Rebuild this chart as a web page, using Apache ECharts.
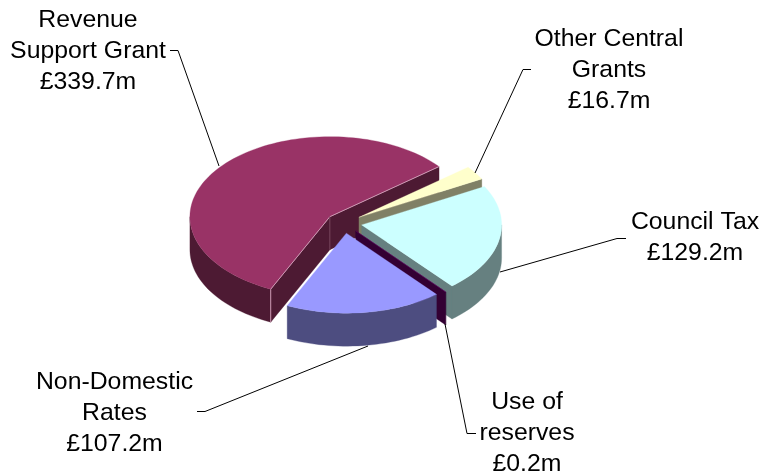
<!DOCTYPE html>
<html>
<head>
<meta charset="utf-8">
<style>html,body{margin:0;padding:0;background:#fff}#chart{width:763px;height:475px}</style>
<script src="https://cdn.jsdelivr.net/npm/echarts@6/dist/echarts.min.js"></script>
</head>
<body>
<div id="chart"></div>
<script>
// Funding sources, in pie order (clockwise from the first slice).
const categories = ['Revenue\nSupport Grant', 'Other Central\nGrants', 'Council Tax', 'Use of\nreserves', 'Non-Domestic\nRates'];
const amounts = [339.7, 16.7, 129.2, 0.2, 107.2];
const topColors = ['#993366', '#FFFFCC', '#CCFFFF', '#660066', '#9999FF'];
const sideColors = ['#4D1A33', '#808066', '#668080', '#330033', '#4D4D80'];

// Projection of the tilted disc.
const CENTER = [344, 223], RX = 140, RY = 80, DEPTH = 33, EXPLODE = 0.128;
const START_DEG = 245;   // angle at which the first slice begins, running clockwise

// Label anchors (centre of the text block) and leader lines, one per slice.
const labelAt = [[88, 51.5], [609, 70], [695, 238], [527, 433.5], [114.5, 413]];
const leaders = [
  [[170, 50.5], [178, 50.5], [219, 166]],
  [[531, 69.5], [523, 69.5], [475, 173]],
  [[626, 238.5], [617, 238.5], [500, 272]],
  [[476, 433.5], [467, 433.5], [445, 324]],
  [[197, 411.5], [205, 411.5], [368, 346]]
];

const total = amounts.reduce((a, b) => a + b, 0);
const rad = d => d * Math.PI / 180;

function slices() {
  let a = START_DEG;
  return amounts.map(v => {
    const hi = a, lo = a - v / total * 360;
    a = lo;
    const mid = rad((hi + lo) / 2);
    const cx = CENTER[0] + EXPLODE * RX * Math.cos(mid);
    const cy = CENTER[1] - EXPLODE * RY * Math.sin(mid);
    return { lo, hi, cx, cy };
  });
}
const geom = slices();

function rimPoint(s, deg, drop) {
  return [s.cx + RX * Math.cos(rad(deg)), s.cy - RY * Math.sin(rad(deg)) + drop];
}
function arc(s, from, to, drop) {
  const n = Math.max(2, Math.ceil(Math.abs(to - from) / 2));
  const pts = [];
  for (let i = 0; i <= n; i++) pts.push(rimPoint(s, from + (to - from) * i / n, drop));
  return pts;
}
function poly(points, fill) {
  return { type: 'polygon', shape: { points }, style: { fill, stroke: fill, lineWidth: 0.3 } };
}
function seg(points, color) {
  return { type: 'polyline', shape: { points }, style: { stroke: color, fill: null, lineWidth: 1 } };
}

function renderSlice(params, api) {
  const i = api.value(1);
  const s = geom[i];
  const side = sideColors[i];
  const kids = [];
  const apex = [s.cx, s.cy], apexLow = [s.cx, s.cy + DEPTH];
  // Cut faces, only where they turn towards the viewer.
  [[s.lo, s.lo - 90], [s.hi, s.hi + 90]].forEach(([edge, normal]) => {
    if (Math.sin(rad(normal)) < 0) {
      kids.push(poly([apex, rimPoint(s, edge, 0), rimPoint(s, edge, DEPTH), apexLow], side));
    }
  });
  // Outer wall on the front half of the rim (angles 180-360 modulo a turn).
  [[-180, 0], [180, 360]].forEach(([fa, fb]) => {
    const from = Math.max(s.lo, fa), to = Math.min(s.hi, fb);
    if (to > from) {
      kids.push(poly(arc(s, from, to, 0).concat(arc(s, to, from, DEPTH)), side));
    }
  });
  // Top surface.
  kids.push(poly([apex].concat(arc(s, s.lo, s.hi, 0)), topColors[i]));
  // Pale highlights on the largest slice's edges.
  if (i === 0) {
    kids.push(seg([rimPoint(s, s.lo, 0), apex, rimPoint(s, s.hi, 0), rimPoint(s, s.hi, DEPTH)], '#CC99B3'));
    kids.push(seg([apex, apexLow], '#74405A'));
  }
  return { type: 'group', children: kids };
}

function renderNotes(params, api) {
  const i = api.value(1);
  const label = categories[i] + '\n\u00A3' + amounts[i].toFixed(1) + 'm';
  return {
    type: 'group',
    children: [
      seg(leaders[i], '#000000'),
      {
        type: 'text',
        style: {
          text: label, x: labelAt[i][0], y: labelAt[i][1],
          fill: '#000000', fontSize: 24.8, fontFamily: '"Liberation Sans", Arial, sans-serif',
          align: 'center', verticalAlign: 'middle', lineHeight: 31
        }
      }
    ]
  };
}

const rows = amounts.map((v, i) => [v, i]);
const chart = echarts.init(document.getElementById('chart'), null, { renderer: 'canvas' });
chart.setOption({
  animation: false,
  backgroundColor: '#ffffff',
  series: [
    { type: 'custom', coordinateSystem: 'none', silent: true, z: 3, renderItem: renderNotes, data: rows },
    { type: 'custom', coordinateSystem: 'none', silent: true, z: 2, renderItem: renderSlice, data: rows }
  ]
});
</script>
</body>
</html>
